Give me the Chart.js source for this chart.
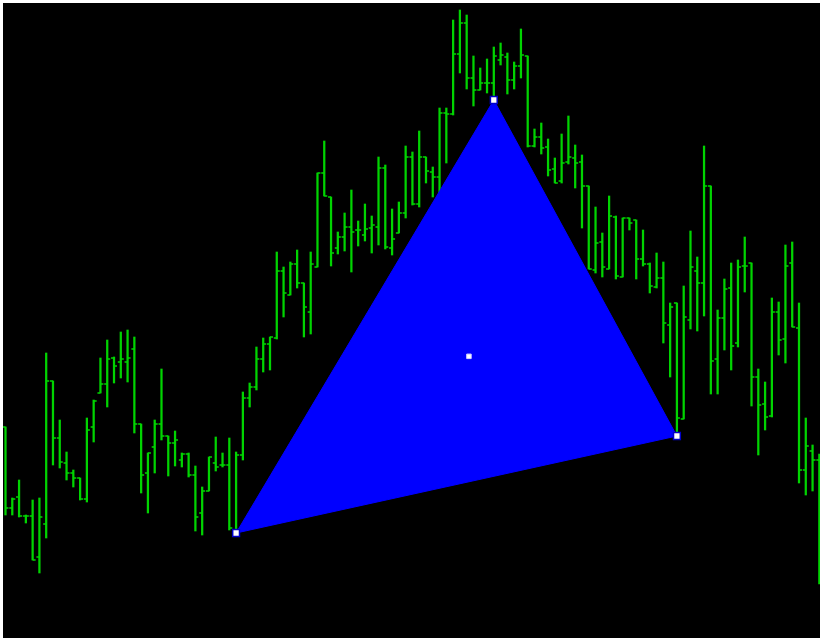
<!DOCTYPE html>
<html>
<head>
<meta charset="utf-8">
<script src="https://cdn.jsdelivr.net/npm/chart.js@4/dist/chart.umd.min.js"></script>
<style>
  html, body { margin: 0; padding: 0; background: #000; overflow: hidden; }
  #wrap { position: relative; width: 820px; height: 638px; background: #000; }
</style>
</head>
<body>
<div id="wrap"><canvas id="c"></canvas></div>
<script>
// OHLC price values per bar (bar index 0..120)
const opens = [213,132,143,124,124,83,116,259,202,177,167,162,141,213,247,256,282,278,278,291,
  216,167,193,216,204,197,180,186,165,127,149,177,175,175,110,185,242,253,281,296,
  302,369,345,376,357,328,373,467,443,392,403,413,410,405,412,413,472,392,407,427,
  483,436,483,468,463,527,526,586,617,562,550,557,557,580,583,560,574,584,494,503,
  493,471,459,478,482,478,454,370,398,371,423,363,422,420,381,376,353,362,315,337,
  221,320,369,357,454,281,322,352,297,374,377,263,236,224,328,301,377,312,170,189,180];
const highs = [213,142,160,125,140,142,287,259,220,188,170,162,222,240,282,300,283,308,310,303,
  216,187,220,271,204,209,187,187,174,153,183,203,187,202,188,248,257,293,302,303,
  388,373,378,390,357,388,467,499,443,408,427,450,419,436,424,483,475,431,438,494,
  488,509,483,473,532,532,620,630,625,584,572,581,593,597,587,578,611,584,511,517,
  501,482,506,524,495,485,454,433,407,444,424,422,422,420,410,377,387,378,337,337,
  354,409,383,494,454,330,361,377,380,403,377,271,258,342,338,395,398,337,222,195,186];
const lows = [125,125,123,117,80,67,102,175,172,160,153,140,138,198,247,233,257,262,258,207,
  147,127,167,200,164,174,173,163,109,105,149,169,173,110,107,180,233,250,268,270,
  301,323,345,352,303,306,373,444,374,386,389,368,394,399,387,395,391,385,407,422,
  435,433,457,443,447,477,525,567,551,534,550,547,540,575,546,551,562,493,493,486,
  464,457,457,476,452,412,371,367,363,371,361,363,410,361,374,347,352,297,263,204,
  221,311,309,324,246,246,290,270,293,348,234,185,210,223,285,277,313,157,145,149,56];
const closes = [132,141,124,124,80,123,259,202,178,167,162,141,210,239,256,281,274,281,282,216,
  165,187,216,204,197,200,186,165,123,149,183,173,175,112,185,242,253,281,296,303,
  369,347,376,357,333,376,467,444,387,403,413,408,410,411,415,472,393,401,427,483,
  436,483,469,463,527,526,586,617,562,550,557,557,584,585,560,574,585,494,503,492,
  470,457,477,483,477,454,371,397,373,424,364,422,417,381,376,354,362,317,333,222,
  323,373,357,454,279,322,351,294,373,374,263,235,223,328,300,374,313,170,194,180,160];

// Triangle pattern vertices (bar index, price)
const triBars = [34, 72, 99];
const triPrices = [107, 540, 204];

const barIndex = opens.map((_, i) => i);
const GREEN = '#00d400';

const rangeData = barIndex.map(i => ({ x: i, y: [lows[i], highs[i]] }));
const triData = triBars.map((b, k) => ({ x: b, y: triPrices[k] }));
triData.push({ x: triBars[0], y: triPrices[0] });
const vertexData = triBars.map((b, k) => ({ x: b, y: triPrices[k] }));
const centroid = [{
  x: triBars.reduce((a, b) => a + b, 0) / triBars.length,
  y: triPrices.reduce((a, b) => a + b, 0) / triPrices.length
}];

const ohlcTicks = {
  id: 'ohlcTicks',
  afterDatasetDraw(chart, args) {
    if (args.index !== 0) return;
    const ctx = chart.ctx, xs = chart.scales.x, ys = chart.scales.y;
    ctx.save();
    ctx.strokeStyle = GREEN;
    ctx.lineWidth = 1.3;
    ctx.beginPath();
    for (const i of barIndex) {
      const px = xs.getPixelForValue(i);
      const po = ys.getPixelForValue(opens[i]);
      const pc = ys.getPixelForValue(closes[i]);
      ctx.moveTo(px - 3, po); ctx.lineTo(px, po);
      ctx.moveTo(px, pc); ctx.lineTo(px + 3, pc);
    }
    ctx.stroke();
    ctx.restore();
  }
};

const frame = {
  id: 'frame',
  beforeDraw(chart) {
    const ctx = chart.ctx;
    ctx.save();
    ctx.fillStyle = '#000';
    ctx.fillRect(0, 0, chart.width, chart.height);
    ctx.restore();
  },
  afterDraw(chart) {
    const ctx = chart.ctx;
    ctx.save();
    ctx.fillStyle = '#fff';
    ctx.fillRect(0, 0, 3, chart.height);
    ctx.fillRect(0, 0, chart.width, 3);
    ctx.restore();
  }
};

new Chart(document.getElementById('c'), {
  type: 'bar',
  data: {
    datasets: [
      {
        type: 'bar',
        data: rangeData,
        backgroundColor: GREEN,
        borderWidth: 0,
        barThickness: 1.6,
        grouped: false,
        order: 3
      },
      {
        type: 'line',
        data: triData,
        borderColor: '#0000ff',
        borderWidth: 1,
        backgroundColor: '#0000ff',
        fill: 'shape',
        pointRadius: 0,
        tension: 0,
        order: 2
      },
      {
        type: 'scatter',
        data: vertexData,
        pointStyle: 'rect',
        pointRadius: 4.8,
        backgroundColor: '#ffffff',
        borderColor: '#0000c8',
        borderWidth: 1.5,
        order: 1
      },
      {
        type: 'scatter',
        data: centroid,
        pointStyle: 'rect',
        pointRadius: 3.2,
        backgroundColor: '#ffffff',
        borderColor: '#d0d0ff',
        borderWidth: 1,
        order: 0
      }
    ]
  },
  options: {
    responsive: true,
    maintainAspectRatio: false,
    animation: false,
    layout: { padding: 0, autoPadding: false },
    plugins: { legend: { display: false }, tooltip: { enabled: false } },
    scales: {
      x: { type: 'linear', min: -0.811, max: 120.097, offset: false, display: false },
      y: { type: 'linear', min: 2, max: 640, display: false }
    }
  },
  plugins: [frame, ohlcTicks]
});
</script>
</body>
</html>
